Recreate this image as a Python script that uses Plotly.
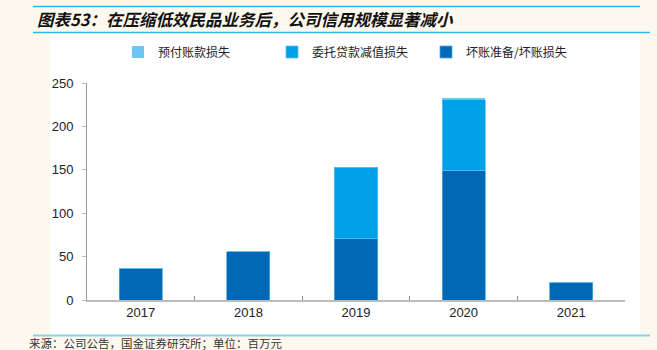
import plotly.graph_objects as go

years = ["2017", "2018", "2019", "2020", "2021"]
bad_debt = [36.5, 55.6, 70.3, 149.0, 20.3]          # 坏账准备/坏账损失
entrusted_loan = [0, 0, 82.5, 81.5, 0]              # 委托贷款减值损失
prepay = [0, 0, 0, 1.5, 0]                          # 预付账款损失
yticks = [0, 50, 100, 150, 200, 250]

C_DARK = "#0068B5"
C_MID = "#00A0E9"
C_LIGHT = "#6CC5F0"
CREAM = "#FDF8EE"

W, H = 657, 350
L, R, T, B = 87, 32, 83, 50
pw, ph = W - L - R, H - T - B

def px(x):
    return (x - L) / pw

def py(y):
    return (H - B - y) / ph

fig = go.Figure()
fig.add_bar(x=years, y=bad_debt, name="坏账准备/坏账损失", marker=dict(color=C_DARK, line=dict(color="#4FA8DD", width=0.8)), width=0.4)
fig.add_bar(x=years, y=entrusted_loan, name="委托贷款减值损失", marker=dict(color=C_MID, line=dict(color="#5CC0F0", width=0.8)), width=0.4)
fig.add_bar(x=years, y=prepay, name="预付账款损失", marker=dict(color=C_LIGHT, line=dict(width=0)), width=0.4)

shapes = [
    # white panel
    dict(type="rect", xref="paper", yref="paper", x0=px(50), x1=px(640), y0=py(335), y1=py(33),
         fillcolor="white", line=dict(width=0), layer="below"),
    # top rule
    dict(type="line", xref="paper", yref="paper", x0=px(33), x1=px(640), y0=py(6.5), y1=py(6.5),
         line=dict(color="#29B6EA", width=1.5)),
    # rule under title
    dict(type="line", xref="paper", yref="paper", x0=px(33), x1=px(650), y0=py(32.5), y1=py(32.5),
         line=dict(color="#29B6EA", width=1.5)),
    # bottom rule
    dict(type="line", xref="paper", yref="paper", x0=px(33), x1=px(650), y0=py(335.5), y1=py(335.5),
         line=dict(color="#8DCFE8", width=2)),
]

annotations = [
    dict(xref="paper", yref="paper", x=px(35), y=py(19), xanchor="left", yanchor="middle",
         text="<b>图表53：在压缩低效民品业务后，公司信用规模显著减小</b>", showarrow=False,
         font=dict(family="Noto Sans CJK SC", size=16.5, color="#111111", style="italic")),
    dict(xref="paper", yref="paper", x=px(27), y=py(343), xanchor="left", yanchor="middle",
         text="来源：公司公告，国金证券研究所；单位：百万元", showarrow=False,
         font=dict(family="Noto Sans CJK SC", size=11.5, color="#333333")),
]

fig.update_layout(
    width=W, height=H,
    margin=dict(l=L, r=R, t=T, b=B, pad=0),
    paper_bgcolor=CREAM, plot_bgcolor="white",
    barmode="stack", bargap=0.6,
    shapes=shapes, annotations=annotations,
    showlegend=True,
    legend=dict(orientation="h", x=px(118), y=py(52), xanchor="left", yanchor="middle",
                traceorder="reversed", entrywidth=109, entrywidthmode="pixels",
                font=dict(family="Noto Sans CJK SC", size=12, color="#222222"),
                bgcolor="rgba(0,0,0,0)"),
    font=dict(family="Liberation Sans", size=13, color="#222222"),
)
fig.update_xaxes(showline=True, linecolor="#BBBBBB", linewidth=1.5, ticks="inside", tickson="boundaries",
                 ticklen=4, tickcolor="#888888", showgrid=False,
                 tickfont=dict(family="Liberation Sans", size=13, color="#222222"))
fig.update_yaxes(range=[0, 250], tickvals=yticks, showline=True, linecolor="#999999", linewidth=1,
                 ticks="outside", ticklen=4, tickcolor="#BBBBBB", showgrid=False, zeroline=False,
                 ticklabelstandoff=6,
                 tickfont=dict(family="Liberation Sans", size=13, color="#222222"))

fig.write_html("out.html")
